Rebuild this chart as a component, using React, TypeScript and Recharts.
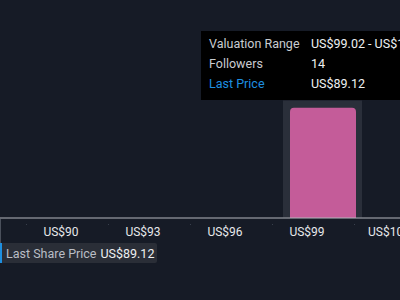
import React from "react";
import {
  BarChart,
  Bar,
  XAxis,
  YAxis,
  Tooltip,
  ReferenceLine,
} from "recharts";

const binRanges = [
  "US$90.35 - US$93.24",
  "US$93.24 - US$96.13",
  "US$96.13 - US$99.02",
  "US$99.02 - US$101.91",
  "US$101.91 - US$104.80",
];
const binStart = [90.35, 93.24, 96.13, 99.02, 101.91];
const followers = [0, 0, 0, 14, 0];
const priceTicks = [90, 93, 96, 99, 102, 105];
const lastPrice = 89.12;
const lastPriceLabel = "US$89.12";
const activeBin = 3;

const data = binRanges.map((range, i) => ({
  range,
  start: binStart[i],
  followers: followers[i],
}));

const FONT = "Roboto, 'Noto Sans', sans-serif";

const PriceTick = (props: any) => {
  const { x, y, payload } = props;
  return (
    <g>
      <rect x={x} y={224} width={1} height={1} fill="#3a414d" />
      <text
        x={x + 35}
        y={y + 1}
        dy="0.71em"
        textAnchor="middle"
        fill="#e6e8eb"
        fontSize={12}
        fontFamily={FONT}
      >
        {"US$" + payload.value}
      </text>
    </g>
  );
};

const LastPriceMarker = (props: any) => {
  const vb = props.viewBox || {};
  const x = vb.x ?? 0;
  const bottom = (vb.y ?? 0) + (vb.height ?? 0);
  const left = Math.max(0, x - 2);
  return (
    <g>
      <line x1={left + 0.5} x2={left + 0.5} y1={bottom + 1} y2={bottom + 25} stroke="#4a505b" strokeWidth={1} />
      <rect x={left} y={bottom + 25} width={157} height={20} rx={2} fill="#2a2e37" />
      <rect x={left} y={bottom + 25} width={2} height={20} fill="#1e8fe0" />
      <text x={left + 6} y={bottom + 39.5} fontSize={12.5} fontFamily={FONT} fill="#b9bdc5">
        Last Share Price
        <tspan dx={4} fill="#eef0f2">{lastPriceLabel}</tspan>
      </text>
    </g>
  );
};

const TooltipBox = (props: any) => {
  const { payload } = props;
  if (!payload || !payload.length) return null;
  const row = payload[0].payload;
  const cell: React.CSSProperties = { height: 20, lineHeight: "20px", whiteSpace: "nowrap" };
  return (
    <div
      style={{
        background: "#000000",
        padding: "3px 12px 6px 8px",
        fontFamily: FONT,
        fontSize: 12.5,
        display: "grid",
        gridTemplateColumns: "102px auto",
      }}
    >
      <div style={{ ...cell, color: "#c9ccd1" }}>Valuation Range</div>
      <div style={{ ...cell, color: "#eef0f2" }}>{row.range}</div>
      <div style={{ ...cell, color: "#c9ccd1" }}>Followers</div>
      <div style={{ ...cell, color: "#eef0f2" }}>{row.followers}</div>
      <div style={{ ...cell, color: "#1e8fe0" }}>Last Price</div>
      <div style={{ ...cell, color: "#eef0f2" }}>{lastPriceLabel}</div>
    </div>
  );
};

export default function App() {
  return (
    <div
      style={{
        position: "absolute",
        left: 0,
        top: 0,
        width: 400,
        height: 300,
        overflow: "hidden",
        background: "#161b26",
      }}
    >
      <BarChart
        width={480}
        height={300}
        data={data}
        margin={{ top: 100, right: 0, bottom: 52, left: 0 }}
      >
        <XAxis
          xAxisId="price"
          dataKey="start"
          type="number"
          domain={[89.05, 106.61]}
          allowDataOverflow
          ticks={priceTicks}
          tick={<PriceTick />}
          tickLine={false}
          axisLine={{ stroke: "#b4b7bd", strokeWidth: 1 }}
          height={30}
          interval={0}
        />
        <XAxis dataKey="range" hide height={0} padding={{ left: 46, right: 39 }} />
        <YAxis hide domain={[0, 15]} />
        <ReferenceLine
          xAxisId="price"
          x={lastPrice}
          stroke="none"
          label={(p: any) => <LastPriceMarker {...p} />}
        />
        <Tooltip
          active
          defaultIndex={activeBin}
          position={{ x: 201, y: 31 }}
          allowEscapeViewBox={{ x: true, y: true }}
          cursor={{ fill: "#2a2f3a" }}
          content={<TooltipBox />}
          isAnimationActive={false}
        />
        <Bar
          dataKey="followers"
          fill="#c45c99"
          barSize={66}
          radius={[4, 4, 0, 0]}
          isAnimationActive={false}
        />
      </BarChart>
    </div>
  );
}
